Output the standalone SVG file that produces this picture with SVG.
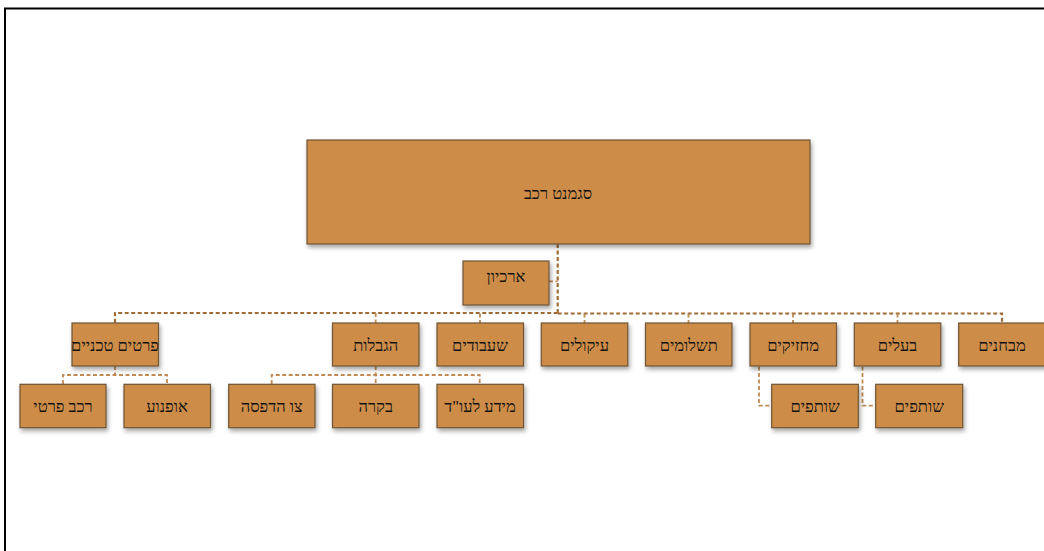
<svg xmlns="http://www.w3.org/2000/svg" width="1044" height="551" viewBox="0 0 1044 551">
<defs>
<filter id="sh" x="-20%" y="-20%" width="140%" height="160%">
<feDropShadow dx="1.5" dy="3" stdDeviation="2" flood-color="#000" flood-opacity="0.35"/>
</filter>
<style>
.box{fill:#CD8D4A;stroke:#6F5535;stroke-width:1.2;filter:url(#sh)}
.t{font-family:"Liberation Serif","DejaVu Serif",serif;font-size:16.5px;fill:#111;text-anchor:middle;direction:rtl}
.c{fill:none;stroke:#C08A52;stroke-width:1.8;stroke-dasharray:4 2.5}
.cm{fill:none;stroke:#A06C36;stroke-width:2.2;stroke-dasharray:4 2.5}
.frame{stroke:#000;stroke-width:2;fill:none}
</style>
</defs>
<rect width="1044" height="551" fill="#fff"/>
<path class="frame" d="M5 551 V8.5 H1044"/>
<g id="connectors">
<path class="cm" d="M557.7 244 V313"/>
<path class="c" d="M549 281.3 H557.7"/>
<path class="cm" d="M557.7 313 H115 V323"/>
<path class="cm" d="M557.7 313.5 H1002 V323"/>
<path class="c" d="M375.7 313 V323 M480 313.5 V323 M584.5 313.5 V323 M688.5 313.5 V323 M793 313.5 V323 M897.5 313.5 V323"/>
<path class="c" d="M115 366 V375 M63 384 V375 H167 V384"/>
<path class="c" d="M375.7 366 V384 M271.7 384 V375 H479.7 V384"/>
<path class="c" d="M759 366.5 V405.7 H771.7"/>
<path class="c" d="M862.5 366.5 V405.7 H875.7"/>
</g>
<g id="n-segment"><rect class="box" x="307" y="140" width="503" height="104"/><text class="t" x="558" y="198.5">סגמנט רכב</text></g>
<g id="n-archive"><rect class="box" x="463" y="261" width="86" height="44"/><text class="t" x="506" y="281.5">ארכיון</text></g>
<g id="n-tech"><rect class="box" x="72" y="323" width="86.5" height="43"/><text class="t" x="115" y="350.5">פרטים טכניים</text></g>
<g id="n-limits"><rect class="box" x="332.5" y="323" width="86.5" height="43"/><text class="t" x="375.7" y="350.5">הגבלות</text></g>
<g id="n-liens"><rect class="box" x="437" y="323" width="86.5" height="43"/><text class="t" x="480" y="350.5">שעבודים</text></g>
<g id="n-seizures"><rect class="box" x="541.3" y="323" width="86.5" height="43"/><text class="t" x="584.5" y="350.5">עיקולים</text></g>
<g id="n-payments"><rect class="box" x="645.5" y="323" width="86.5" height="43"/><text class="t" x="688.7" y="350.5">תשלומים</text></g>
<g id="n-holders"><rect class="box" x="750" y="323" width="86.5" height="43"/><text class="t" x="793.2" y="350.5">מחזיקים</text></g>
<g id="n-owners"><rect class="box" x="854.3" y="323" width="86.5" height="43"/><text class="t" x="897.5" y="350.5">בעלים</text></g>
<g id="n-tests"><rect class="box" x="958.7" y="323" width="86.5" height="43"/><text class="t" x="1002" y="350.5">מבחנים</text></g>
<g id="n-private"><rect class="box" x="20" y="384.3" width="86" height="43.4"/><text class="t" x="63" y="411.5">רכב פרטי</text></g>
<g id="n-motorcycle"><rect class="box" x="124" y="384.3" width="86.5" height="43.4"/><text class="t" x="167" y="411.5">אופנוע</text></g>
<g id="n-order"><rect class="box" x="228.7" y="384.3" width="86.3" height="43.4"/><text class="t" x="271.7" y="411.5">צו הדפסה</text></g>
<g id="n-control"><rect class="box" x="332.5" y="384.3" width="86.5" height="43.4"/><text class="t" x="375.7" y="411.5">בקרה</text></g>
<g id="n-lawyer"><rect class="box" x="437" y="384.3" width="86.5" height="43.4"/><text class="t" x="480" y="411.5">מידע לעו"ד</text></g>
<g id="n-partners1"><rect class="box" x="771.7" y="384.3" width="86.6" height="43.4"/><text class="t" x="815" y="411.5">שותפים</text></g>
<g id="n-partners2"><rect class="box" x="875.7" y="384.3" width="87" height="43.4"/><text class="t" x="919.2" y="411.5">שותפים</text></g>
</svg>
